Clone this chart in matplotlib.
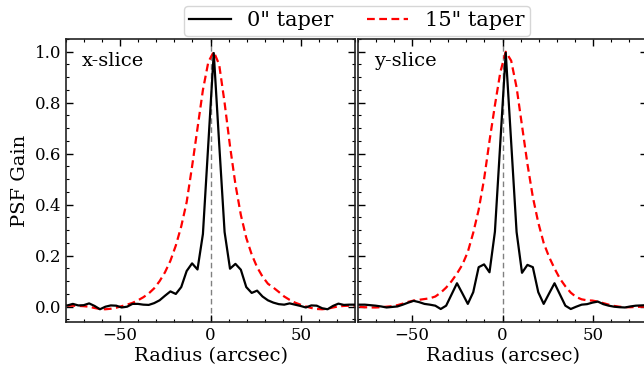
import numpy as np
import matplotlib
matplotlib.use('Agg')
import matplotlib.pyplot as plt
import matplotlib.ticker as ticker

plt.rcParams['font.family'] = 'DejaVu Serif'
plt.rcParams['mathtext.fontset'] = 'dejavuserif'

# radius sampling of the slices (arcsec)
radius = [-79.2, -76.2, -73.2, -70.2, -67.2, -64.2, -61.2, -58.2, -55.2, -52.2,
          -49.2, -46.2, -43.2, -40.2, -37.2, -34.2, -31.2, -28.2, -25.2, -22.2,
          -19.2, -16.2, -13.2, -10.2, -7.2, -4.2, -1.2, 1.8, 4.8, 7.8,
          10.8, 13.8, 16.8, 19.8, 22.8, 25.8, 28.8, 31.8, 34.8, 37.8,
          40.8, 43.8, 46.8, 49.8, 52.8, 55.8, 58.8, 61.8, 64.8, 67.8,
          70.8, 73.8, 76.8, 79.8]

# x-slice, no taper
x_taper0 = [0.005, 0.011, 0.005, 0.006, 0.013, 0.003, -0.010, 0.000, 0.005, 0.004,
            -0.003, 0.000, 0.011, 0.011, 0.008, 0.007, 0.014, 0.025, 0.043, 0.060,
            0.050, 0.077, 0.140, 0.170, 0.146, 0.285, 0.640, 0.995, 0.640, 0.293,
            0.149, 0.168, 0.145, 0.077, 0.054, 0.063, 0.040, 0.025, 0.016, 0.010,
            0.008, 0.013, 0.008, 0.003, -0.003, 0.005, 0.004, -0.006, -0.010, 0.003,
            0.012, 0.007, 0.008, 0.008]

# x-slice, 15" taper
x_taper15 = [0.004, 0.004, 0.003, 0.002, 0.000, -0.005, -0.009, -0.010, -0.008, -0.004,
             0.002, 0.008, 0.015, 0.025, 0.037, 0.052, 0.072, 0.100, 0.135, 0.180,
             0.240, 0.315, 0.410, 0.550, 0.700, 0.850, 0.960, 1.000, 0.950, 0.800,
             0.630, 0.480, 0.360, 0.270, 0.205, 0.155, 0.118, 0.090, 0.075, 0.058,
             0.040, 0.027, 0.016, 0.008, 0.001, -0.005, -0.009, -0.010, -0.008, -0.003,
             0.001, 0.003, 0.004, 0.004]

# y-slice, no taper
y_taper0 = [0.008, 0.008, 0.006, 0.004, 0.001, -0.003, -0.001, 0.001, 0.008, 0.016,
            0.023, 0.018, 0.011, 0.008, 0.004, -0.009, 0.004, 0.048, 0.092, 0.052,
            0.011, 0.057, 0.155, 0.166, 0.135, 0.294, 0.645, 0.996, 0.645, 0.293,
            0.133, 0.164, 0.155, 0.057, 0.011, 0.052, 0.092, 0.048, 0.004, -0.009,
            0.000, 0.008, 0.010, 0.016, 0.020, 0.010, 0.004, 0.000, -0.002, -0.003,
            0.001, 0.004, 0.005, 0.006]

# y-slice, 15" taper
y_taper15 = [0.000, -0.002, -0.003, -0.003, -0.002, 0.000, 0.002, 0.006, 0.012, 0.019,
             0.024, 0.027, 0.030, 0.033, 0.040, 0.055, 0.075, 0.100, 0.130, 0.165,
             0.215, 0.290, 0.380, 0.500, 0.650, 0.790, 0.920, 1.000, 0.965, 0.860,
             0.710, 0.560, 0.430, 0.330, 0.250, 0.195, 0.150, 0.110, 0.080, 0.055,
             0.038, 0.029, 0.025, 0.024, 0.020, 0.014, 0.008, 0.003, 0.000, -0.002,
             -0.002, -0.001, 0.000, 0.000]

slices = [('x-slice', x_taper0, x_taper15), ('y-slice', y_taper0, y_taper15)]

fig = plt.figure(figsize=(6.44, 3.70), dpi=100)
W, H = 644, 370
ax_l = fig.add_axes([66 / W, (H - 322) / H, 289 / W, 283 / H])
ax_r = fig.add_axes([358 / W, (H - 322) / H, 289 / W, 283 / H])

for ax, (name, p0, p15) in zip([ax_l, ax_r], slices):
    ax.axvline(0, color='grey', ls='--', lw=1.0, dashes=(4, 2.5), zorder=1)
    ax.plot(radius, p0, color='black', lw=1.6, label='0" taper', zorder=3)
    ax.plot(radius, p15, color='red', lw=1.6, ls='--', dashes=(3.5, 2),
            label='15" taper', zorder=2)
    ax.set_xlim(-80, 80)
    ax.set_ylim(-0.06, 1.05)
    ax.xaxis.set_major_locator(ticker.MultipleLocator(50))
    ax.xaxis.set_minor_locator(ticker.MultipleLocator(10))
    ax.yaxis.set_major_locator(ticker.MultipleLocator(0.2))
    ax.yaxis.set_minor_locator(ticker.MultipleLocator(0.05))
    ax.tick_params(which='both', direction='in', top=True, right=True,
                   labelsize=12)
    ax.tick_params(which='major', length=5, width=1)
    ax.tick_params(which='minor', length=2.5, width=0.8)
    for sp in ax.spines.values():
        sp.set_linewidth(1.2)
        sp.set_color('#222222')
    ax.set_xlabel('Radius (arcsec)', fontsize=14, labelpad=2)
    ax.text(0.055, 0.955, name, transform=ax.transAxes, fontsize=14,
            ha='left', va='top')

ax_l.set_ylabel('PSF Gain', fontsize=14, labelpad=4)
ax_r.tick_params(labelleft=False)

handles, labels = ax_l.get_legend_handles_labels()
fig.legend(handles, labels, loc='upper center', bbox_to_anchor=(0.554, 1.0),
           ncol=2, fontsize=15, frameon=True, fancybox=True,
           borderpad=0.25, borderaxespad=0.3, handletextpad=0.8,
           columnspacing=1.6, handlelength=2.0)

fig.savefig('out.png', dpi=100)
